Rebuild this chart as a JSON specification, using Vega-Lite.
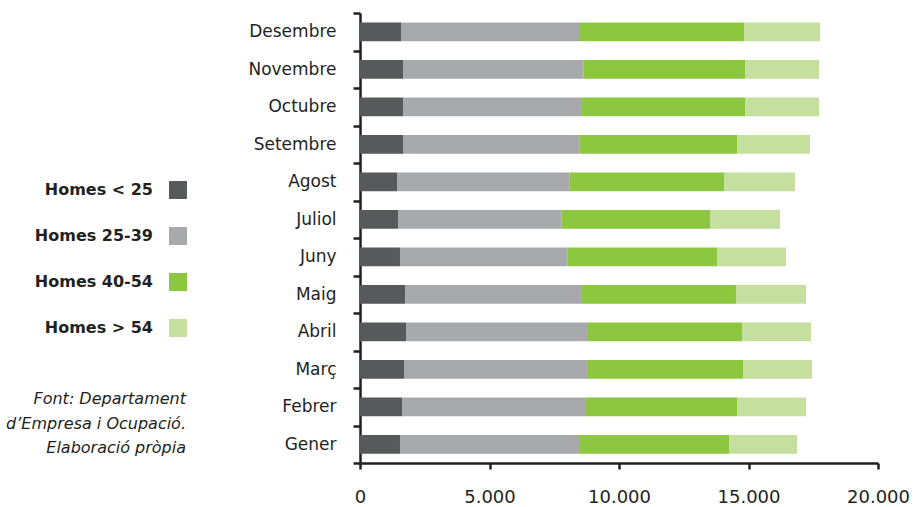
{
  "$schema": "https://vega.github.io/schema/vega-lite/v6.json",
  "width": 518,
  "height": 450,
  "autosize": {"type": "none"},
  "padding": {"left": 360, "top": 13, "right": 36, "bottom": 44},
  "background": "white",
  "config": {"view": {"stroke": null}, "font": "DejaVu Sans"},
  "title": {
    "text": ["Font: Departament", "d’Empresa i Ocupació.", "Elaboració pròpia"],
    "orient": "bottom",
    "anchor": "start",
    "frame": "group",
    "align": "right",
    "dx": -174,
    "dy": -119,
    "fontStyle": "italic",
    "fontWeight": "normal",
    "fontSize": 16,
    "lineHeight": 24.5,
    "color": "#231f20"
  },
  "data": {
    "values": [
      {"mes": "Desembre", "grup": "Homes < 25", "ordre": 1, "valor": 1583},
      {"mes": "Desembre", "grup": "Homes 25-39", "ordre": 2, "valor": 6911},
      {"mes": "Desembre", "grup": "Homes 40-54", "ordre": 3, "valor": 6332},
      {"mes": "Desembre", "grup": "Homes > 54", "ordre": 4, "valor": 2935},
      {"mes": "Novembre", "grup": "Homes < 25", "ordre": 1, "valor": 1660},
      {"mes": "Novembre", "grup": "Homes 25-39", "ordre": 2, "valor": 6962},
      {"mes": "Novembre", "grup": "Homes 40-54", "ordre": 3, "valor": 6243},
      {"mes": "Novembre", "grup": "Homes > 54", "ordre": 4, "valor": 2857},
      {"mes": "Octubre", "grup": "Homes < 25", "ordre": 1, "valor": 1660},
      {"mes": "Octubre", "grup": "Homes 25-39", "ordre": 2, "valor": 6911},
      {"mes": "Octubre", "grup": "Homes 40-54", "ordre": 3, "valor": 6294},
      {"mes": "Octubre", "grup": "Homes > 54", "ordre": 4, "valor": 2857},
      {"mes": "Setembre", "grup": "Homes < 25", "ordre": 1, "valor": 1660},
      {"mes": "Setembre", "grup": "Homes 25-39", "ordre": 2, "valor": 6808},
      {"mes": "Setembre", "grup": "Homes 40-54", "ordre": 3, "valor": 6088},
      {"mes": "Setembre", "grup": "Homes > 54", "ordre": 4, "valor": 2819},
      {"mes": "Agost", "grup": "Homes < 25", "ordre": 1, "valor": 1429},
      {"mes": "Agost", "grup": "Homes 25-39", "ordre": 2, "valor": 6653},
      {"mes": "Agost", "grup": "Homes 40-54", "ordre": 3, "valor": 5972},
      {"mes": "Agost", "grup": "Homes > 54", "ordre": 4, "valor": 2741},
      {"mes": "Juliol", "grup": "Homes < 25", "ordre": 1, "valor": 1467},
      {"mes": "Juliol", "grup": "Homes 25-39", "ordre": 2, "valor": 6307},
      {"mes": "Juliol", "grup": "Homes 40-54", "ordre": 3, "valor": 5740},
      {"mes": "Juliol", "grup": "Homes > 54", "ordre": 4, "valor": 2702},
      {"mes": "Juny", "grup": "Homes < 25", "ordre": 1, "valor": 1544},
      {"mes": "Juny", "grup": "Homes 25-39", "ordre": 2, "valor": 6460},
      {"mes": "Juny", "grup": "Homes 40-54", "ordre": 3, "valor": 5780},
      {"mes": "Juny", "grup": "Homes > 54", "ordre": 4, "valor": 2664},
      {"mes": "Maig", "grup": "Homes < 25", "ordre": 1, "valor": 1737},
      {"mes": "Maig", "grup": "Homes 25-39", "ordre": 2, "valor": 6834},
      {"mes": "Maig", "grup": "Homes 40-54", "ordre": 3, "valor": 5946},
      {"mes": "Maig", "grup": "Homes > 54", "ordre": 4, "valor": 2703},
      {"mes": "Abril", "grup": "Homes < 25", "ordre": 1, "valor": 1776},
      {"mes": "Abril", "grup": "Homes 25-39", "ordre": 2, "valor": 7027},
      {"mes": "Abril", "grup": "Homes 40-54", "ordre": 3, "valor": 5946},
      {"mes": "Abril", "grup": "Homes > 54", "ordre": 4, "valor": 2664},
      {"mes": "Març", "grup": "Homes < 25", "ordre": 1, "valor": 1699},
      {"mes": "Març", "grup": "Homes 25-39", "ordre": 2, "valor": 7104},
      {"mes": "Març", "grup": "Homes 40-54", "ordre": 3, "valor": 5985},
      {"mes": "Març", "grup": "Homes > 54", "ordre": 4, "valor": 2664},
      {"mes": "Febrer", "grup": "Homes < 25", "ordre": 1, "valor": 1622},
      {"mes": "Febrer", "grup": "Homes 25-39", "ordre": 2, "valor": 7104},
      {"mes": "Febrer", "grup": "Homes 40-54", "ordre": 3, "valor": 5830},
      {"mes": "Febrer", "grup": "Homes > 54", "ordre": 4, "valor": 2664},
      {"mes": "Gener", "grup": "Homes < 25", "ordre": 1, "valor": 1544},
      {"mes": "Gener", "grup": "Homes 25-39", "ordre": 2, "valor": 6950},
      {"mes": "Gener", "grup": "Homes 40-54", "ordre": 3, "valor": 5753},
      {"mes": "Gener", "grup": "Homes > 54", "ordre": 4, "valor": 2626}
    ]
  },
  "mark": {"type": "bar", "height": {"band": 0.5}},
  "encoding": {
    "y": {
      "field": "mes",
      "type": "nominal",
      "sort": ["Desembre", "Novembre", "Octubre", "Setembre", "Agost", "Juliol", "Juny", "Maig", "Abril", "Març", "Febrer", "Gener"],
      "scale": {"paddingInner": 0, "paddingOuter": 0},
      "axis": {
        "title": null,
        "domainColor": "#231f20",
        "domainWidth": 2.5,
        "tickColor": "#231f20",
        "tickWidth": 2.5,
        "tickSize": 7,
        "tickBand": "extent",
        "labelPadding": 17,
        "labelFontSize": 17,
        "labelColor": "#231f20"
      }
    },
    "x": {
      "field": "valor",
      "type": "quantitative",
      "stack": "zero",
      "scale": {"domain": [0, 20000], "nice": false},
      "axis": {
        "title": null,
        "values": [0, 5000, 10000, 15000, 20000],
        "labelExpr": "replace(format(datum.value, ','), ',', '.')",
        "grid": false,
        "domainColor": "#231f20",
        "domainWidth": 2.5,
        "tickColor": "#231f20",
        "tickWidth": 2.5,
        "tickSize": 6,
        "labelPadding": 19,
        "labelFontSize": 18,
        "labelColor": "#231f20",
        "labelFlush": false
      }
    },
    "order": {"field": "ordre", "type": "quantitative"},
    "color": {
      "field": "grup",
      "type": "nominal",
      "sort": ["Homes < 25", "Homes 25-39", "Homes 40-54", "Homes > 54"],
      "scale": {
        "domain": ["Homes < 25", "Homes 25-39", "Homes 40-54", "Homes > 54"],
        "range": ["#58595b", "#a7a9ac", "#8dc63f", "#c5df9e"]
      },
      "legend": {
        "title": null,
        "orient": "none",
        "legendX": -191,
        "legendY": 168,
        "symbolType": "square",
        "symbolSize": 324,
        "symbolStrokeWidth": 0,
        "symbolOpacity": 1,
        "labelAlign": "right",
        "labelOffset": -34,
        "labelFontSize": 16,
        "labelFontWeight": "bold",
        "labelColor": "#231f20",
        "rowPadding": 28,
        "padding": 0
      }
    }
  }
}
